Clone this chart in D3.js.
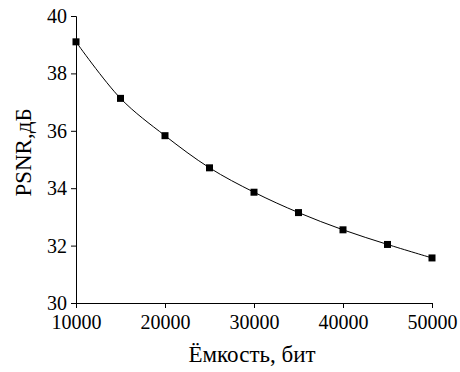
<!DOCTYPE html>
<html>
<head>
<meta charset="utf-8">
<script src="https://cdn.jsdelivr.net/npm/d3@7"></script>
<style>
  body { margin: 0; background: #fff; }
</style>
</head>
<body>
<div id="chart"></div>
<script>
const capacity = [10000, 15000, 20000, 25000, 30000, 35000, 40000, 45000, 50000];
const psnr = [39.1, 37.13, 35.83, 34.71, 33.86, 33.15, 32.55, 32.04, 31.57];
const xTicks = [10000, 20000, 30000, 40000, 50000];
const yTicks = [30, 32, 34, 36, 38, 40];

const width = 460, height = 372;
const margin = { left: 76, right: 28, top: 16, bottom: 69 };
const serif = '"Liberation Serif"';

const svg = d3.select('#chart').append('svg')
  .attr('width', width)
  .attr('height', height);

const x = d3.scaleLinear().domain([10000, 50000]).range([margin.left, width - margin.right]);
const y = d3.scaleLinear().domain([30, 40]).range([height - margin.bottom, margin.top]);

// x axis, major + minor ticks
const xAxis = svg.append('g').attr('transform', `translate(0,${y(30)})`);
xAxis.call(d3.axisBottom(x).tickValues(d3.range(15000, 50000, 10000)).tickSize(3).tickFormat(''));
xAxis.call(d3.axisBottom(x).tickValues(xTicks).tickSize(5).tickPadding(7).tickFormat(d3.format('d')));

const yAxis = svg.append('g').attr('transform', `translate(${x(10000)},0)`);
yAxis.call(d3.axisLeft(y).tickValues(d3.range(31, 40, 2)).tickSize(3).tickFormat(''));
yAxis.call(d3.axisLeft(y).tickValues(yTicks).tickSize(5).tickPadding(4).tickFormat(d3.format('d')));

svg.selectAll('.domain').attr('stroke', '#000').attr('stroke-width', 1);
svg.selectAll('.tick line').attr('stroke', '#000');
svg.selectAll('.tick text')
  .attr('fill', '#000')
  .style('font-size', '20px')
  .style('font-family', serif);

svg.append('text')
  .attr('x', (x(10000) + x(50000)) / 2 - 2)
  .attr('y', 362)
  .attr('text-anchor', 'middle')
  .style('font-family', serif)
  .style('font-size', '23px')
  .text('Ёмкость, бит');

svg.append('text')
  .attr('transform', `translate(31,${(y(30) + y(40)) / 2 - 7}) rotate(-90)`)
  .attr('text-anchor', 'middle')
  .style('font-family', serif)
  .style('font-size', '23px')
  .text('PSNR,дБ');

const pts = capacity.map((c, i) => [c, psnr[i]]);

svg.append('path')
  .datum(pts)
  .attr('fill', 'none')
  .attr('stroke', '#000')
  .attr('stroke-width', 1)
  .attr('d', d3.line().x(d => x(d[0])).y(d => y(d[1])).curve(d3.curveCatmullRom));

svg.selectAll('rect.pt')
  .data(pts)
  .enter()
  .append('rect')
  .attr('class', 'pt')
  .attr('x', d => x(d[0]) - 3.5)
  .attr('y', d => y(d[1]) - 3.5)
  .attr('width', 7)
  .attr('height', 7)
  .attr('fill', '#000');
</script>
</body>
</html>
